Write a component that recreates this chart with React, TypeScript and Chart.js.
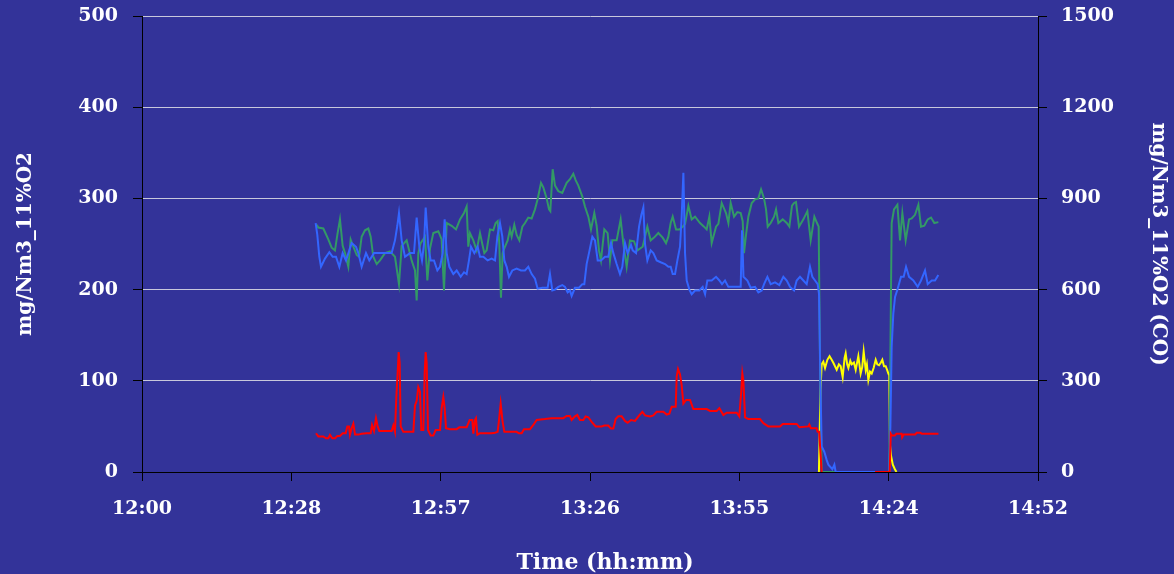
import React, { useEffect, useRef } from 'react';
import { Chart, registerables } from 'chart.js';

Chart.register(...registerables);

// x values are minutes after 12:00
const tickMinutes = [0, 28.8, 57.6, 86.4, 115.2, 144, 172.8];
const timeLabels = ['12:00', '12:28', '12:57', '13:26', '13:55', '14:24', '14:52'];
const leftTicks = [0, 100, 200, 300, 400, 500];
const rightTicks = [0, 300, 600, 900, 1200, 1500];
const xTitle = 'Time (hh:mm)';

const greenSeries: [number, number | null][] = [
  [33.68,271],[34.0,268],[34.97,267],[35.93,255],[36.58,246],[37.22,243],[37.67,260],[38.18,277],[38.7,248],[39.15,240],[39.79,225],[40.24,255],[40.76,247],[41.4,238],[41.85,236],[42.36,258],[43.0,265],[43.65,267],[44.1,258],[44.61,236],[45.26,228],[45.9,232],[46.86,240],[47.83,242],[48.79,236],[49.56,206],[50.08,248],[51.04,254],[52.0,232],[52.65,221],[52.97,188],[53.29,240],[53.74,251],[54.58,258],[55.03,210],[55.54,245],[56.18,262],[57.15,264],[57.79,255],[58.24,199],[58.76,273],[59.72,270],[60.56,266],[61.33,277],[62.1,284],[62.61,291],[62.93,247],[63.25,262],[63.9,254],[64.54,243],[65.18,262],[65.63,250],[66.02,240],[66.47,243],[67.11,266],[67.75,265],[68.2,273],[68.59,275],[68.91,250],[69.23,191],[69.55,240],[70.0,247],[70.52,254],[70.97,266],[71.29,258],[71.8,271],[72.25,260],[72.77,254],[73.35,269],[73.86,273],[74.5,279],[75.15,278],[75.79,288],[76.3,299],[76.95,317],[77.4,312],[78.04,300],[78.49,288],[78.75,286],[79.2,332],[79.65,314],[80.29,308],[81.06,306],[81.9,317],[82.54,321],[83.18,327],[83.63,320],[84.15,314],[84.92,302],[85.43,291],[86.08,280],[86.59,266],[87.23,284],[87.68,270],[88.13,243],[88.52,232],[89.16,266],[89.8,262],[90.25,232],[90.7,254],[91.54,254],[92.31,277],[92.82,251],[93.47,225],[94.11,254],[94.89,253],[95.53,243],[96.56,247],[97.46,269],[98.1,254],[98.75,257],[99.58,262],[100.42,257],[101.06,251],[101.51,258],[101.96,273],[102.35,280],[103.0,266],[103.63,266],[104.28,269],[104.73,272],[105.37,292],[106.01,277],[106.66,280],[107.62,273],[108.39,269],[108.9,266],[109.42,280],[109.87,251],[110.71,269],[111.16,272],[111.8,295],[112.63,284],[113.09,273],[113.53,295],[114.18,280],[114.82,285],[115.46,284],[115.85,275],[116.1,240],[116.49,260],[116.94,280],[117.59,295],[118.23,299],[118.87,300],[119.39,310],[119.96,300],[120.35,288],[120.67,269],[121.25,273],[121.9,280],[122.28,288],[122.73,273],[123.56,277],[124.34,273],[124.85,269],[125.36,292],[125.75,295],[126.13,296],[126.71,269],[127.55,277],[128.32,286],[128.96,254],[129.67,280],[130.18,273],[130.5,269],[130.76,120],[131.08,0],[144.13,0],[144.45,200],[144.58,273],[145.03,288],[145.68,293],[146.19,254],[146.64,284],[147.28,254],[147.93,277],[148.44,278],[149.08,282],[149.73,293],[150.24,269],[150.88,270],[151.53,277],[152.17,279],[152.81,273],[153.58,274]
];

const blueSeries: [number, number | null][] = [
  [33.49,273],[33.81,260],[34.2,236],[34.52,225],[35.29,234],[36.13,241],[36.77,236],[37.41,236],[38.06,225],[38.7,240],[39.34,232],[39.98,243],[40.43,251],[41.27,247],[41.72,240],[42.36,225],[43.2,240],[43.84,232],[44.74,240],[45.9,240],[47.18,240],[48.15,240],[48.79,254],[49.24,270],[49.56,284],[50.08,254],[50.72,236],[51.69,240],[52.46,240],[52.97,279],[53.49,247],[54.0,232],[54.39,250],[54.71,290],[55.22,247],[55.67,232],[56.31,232],[56.96,221],[57.47,225],[57.99,240],[58.37,277],[58.76,240],[59.27,225],[60.04,217],[60.69,221],[61.46,214],[62.1,219],[62.61,217],[63.06,232],[63.45,247],[64.09,240],[64.73,247],[65.18,236],[65.83,236],[66.66,232],[67.43,234],[68.08,232],[68.53,258],[69.04,273],[69.49,258],[69.88,232],[70.33,225],[70.78,214],[71.42,221],[72.25,223],[73.09,221],[73.86,221],[74.5,225],[75.15,217],[75.79,212],[76.3,201],[77.2,202],[78.23,202],[78.68,217],[79.13,199],[79.65,200],[80.29,203],[81.06,205],[81.58,203],[82.09,197],[82.54,199],[82.86,193],[83.5,202],[84.28,202],[84.92,206],[85.3,206],[85.75,228],[86.2,240],[86.85,258],[87.36,254],[87.88,232],[88.52,232],[89.29,236],[89.93,236],[90.45,251],[90.9,240],[91.54,228],[92.18,217],[92.63,225],[93.15,251],[93.66,240],[94.31,249],[94.63,243],[95.28,240],[95.86,269],[96.31,282],[96.69,290],[97.01,250],[97.46,232],[98.1,243],[98.62,240],[99.26,232],[100.03,230],[100.87,228],[101.51,225],[101.96,225],[102.35,217],[102.8,217],[103.25,232],[103.76,247],[104.08,280],[104.41,328],[104.73,240],[105.05,210],[105.56,200],[106.01,195],[106.66,199],[107.49,199],[108.13,203],[108.59,195],[109.03,210],[109.87,210],[110.71,214],[111.35,210],[111.86,206],[112.44,210],[113.08,203],[114.05,203],[115.01,203],[115.46,203],[115.72,265],[115.85,265],[116.0,214],[116.75,210],[117.39,202],[118.23,203],[118.87,197],[119.51,199],[119.97,206],[120.61,214],[121.25,206],[122.09,208],[122.92,205],[123.69,214],[124.34,210],[124.98,203],[125.75,199],[126.26,210],[126.9,214],[127.55,210],[128.19,206],[128.83,225],[129.28,214],[129.8,210],[130.31,206],[130.57,195],[130.83,100],[131.08,28],[131.6,22],[132.05,13],[132.37,8],[133.14,3],[133.53,8],[133.78,0],[144.13,0],[144.33,50],[144.58,137],[144.9,174],[145.23,192],[145.74,201],[146.38,214],[146.9,214],[147.35,225],[147.93,214],[148.76,210],[149.6,203],[150.24,210],[151.01,221],[151.53,206],[152.3,210],[152.94,210],[153.58,216]
];

const redSeries: [number, number | null][] = [
  [33.56,42.5],[34.01,39],[34.97,39],[35.48,37],[35.93,37],[36.26,40.7],[36.71,37],[37.22,37],[37.67,39.6],[38.18,39.6],[38.7,42.5],[39.28,42.5],[39.6,50],[39.92,50],[40.11,41],[40.43,48],[40.76,53],[41.08,41],[41.72,41],[42.36,42],[43.33,42.5],[44.1,42.5],[44.36,51.6],[44.74,45],[45.13,59],[45.45,50],[45.77,45],[48.15,45],[48.47,51],[48.79,44],[49.05,82],[49.31,110],[49.5,131.6],[49.69,120],[49.89,50],[50.4,44],[52.33,44],[52.65,73],[52.97,78],[53.29,93],[53.61,88],[53.87,46],[54.26,46],[54.52,110],[54.71,131.6],[54.9,120],[55.16,46],[55.67,40],[56.18,40],[56.63,46],[57.47,46],[57.79,70],[58.11,82],[58.37,70],[58.63,48],[59.4,47],[60.69,47],[61.2,49],[62.61,49],[63.19,57],[63.7,57],[63.9,42],[64.22,57],[64.41,59],[64.67,40.7],[65.18,42.5],[67.43,42.5],[68.08,43],[68.59,44],[68.85,57],[69.17,75],[69.55,55],[69.88,44],[72.25,44],[72.7,42.5],[73.22,42.5],[73.67,47],[74.82,47],[75.47,51.6],[76.11,57],[77.72,58],[79.0,59],[81.25,59],[81.9,61.5],[82.54,61.5],[82.86,57],[83.5,61],[83.95,62.5],[84.47,57],[85.11,57],[85.56,61],[86.08,60],[86.72,55],[87.49,50],[88.65,50],[89.16,51],[89.93,51],[90.45,47.6],[90.9,47.6],[91.35,58],[91.86,61],[92.5,61],[93.15,56],[93.66,54],[94.31,57],[95.08,56],[95.73,61],[96.5,66],[97.01,62],[97.98,61],[98.62,62],[99.26,66],[100.55,66],[101.19,63],[101.71,64],[102.16,71.6],[102.93,71.6],[103.12,105],[103.38,113],[103.76,107],[104.08,95],[104.41,75],[104.92,79],[105.69,79],[106.33,69],[108.9,69],[109.55,67],[110.83,67],[111.35,70],[112.12,62.5],[112.76,65],[114.69,65],[115.2,61],[115.59,90],[115.78,108],[115.98,100],[116.3,60],[116.94,58],[119.19,58],[119.84,53.5],[120.8,50],[123.05,50],[123.56,52.7],[126.26,52.7],[126.78,49],[128.5,50],[128.7,52],[129.0,48],[130.1,48],[130.3,44],[130.6,44],[131.08,0],[131.1,null],[141.37,0],[144.2,0],[144.4,42],[144.6,40],[145.2,40],[145.5,42],[146.5,42],[146.6,38],[146.9,41],[149.1,41],[149.4,43],[150.1,43],[150.4,42],[153.6,42]
];

const yellowSeries: [number, number | null][] = [
  [130.55,0],[130.85,90],[131.08,118],[131.4,121],[131.73,114],[132.18,123],[132.6,127],[133.01,123],[133.4,119],[133.98,112],[134.4,118],[134.75,116],[135.13,104],[135.5,125],[135.71,130],[136.0,118],[136.23,114],[136.6,122],[136.87,118],[137.3,120],[137.64,112],[138.15,127],[138.6,108],[138.9,115],[139.18,132],[139.57,112],[139.8,118],[140.08,101],[140.4,110],[140.73,108],[141.1,114],[141.5,123],[141.8,118],[142.14,117],[142.5,120],[142.78,123],[143.1,116],[143.43,116],[143.7,112],[143.94,108],[144.12,106],[144.25,30],[144.45,18],[144.8,8],[145.2,3],[145.5,0]
];

const FONT_FAMILY = '"DejaVu Serif", "Liberation Serif", serif';

const toPoints = (arr: [number, number | null][]) => arr.map(([x, y]) => ({ x, y }));

const bgPlugin = {
  id: 'bgFill',
  beforeDraw(chart: any) {
    const { ctx, width, height } = chart;
    ctx.save();
    ctx.fillStyle = '#333399';
    ctx.fillRect(0, 0, width, height);
    ctx.restore();
  },
};

// x-axis title, drawn slightly right of the plot centre as in the original
const xTitlePlugin = {
  id: 'xTitle',
  afterDraw(chart: any) {
    const { ctx, chartArea } = chart;
    ctx.save();
    ctx.fillStyle = '#FFFFFF';
    ctx.font = 'bold 22px ' + FONT_FAMILY;
    ctx.textAlign = 'center';
    ctx.textBaseline = 'middle';
    ctx.fillText(xTitle, (chartArea.left + chartArea.right) / 2 + 15, chartArea.bottom + 91);
    ctx.restore();
  },
};

const noPad = (s: any) => {
  s.paddingTop = 0;
  s.paddingBottom = 0;
  s.paddingLeft = 0;
  s.paddingRight = 0;
};

export default function App() {
  const canvasRef = useRef<HTMLCanvasElement | null>(null);

  useEffect(() => {
    if (!canvasRef.current) return;
    const tickFont = { family: FONT_FAMILY, size: 19, weight: 'bold' as const };
    const titleFont = { family: FONT_FAMILY, size: 20, weight: 'bold' as const, lineHeight: 1 };
    const chart = new Chart(canvasRef.current, {
      type: 'line',
      data: {
        datasets: [
          { label: 'Red', data: toPoints(redSeries), borderColor: '#FF0000', yAxisID: 'y' },
          { label: 'Blue', data: toPoints(blueSeries), borderColor: '#3366FF', yAxisID: 'y' },
          { label: 'Green', data: toPoints(greenSeries), borderColor: '#339966', yAxisID: 'y' },
          { label: 'Yellow', data: toPoints(yellowSeries), borderColor: '#FFFF00', yAxisID: 'y' },
        ],
      },
      options: {
        animation: false,
        responsive: false,
        maintainAspectRatio: false,
        spanGaps: false,
        layout: { padding: { top: 16, left: 0, right: 0, bottom: 0 } },
        plugins: { legend: { display: false }, tooltip: { enabled: false } },
        elements: {
          point: { radius: 0 },
          line: { tension: 0, borderWidth: 2, fill: false },
        },
        scales: {
          x: {
            type: 'linear',
            min: 0,
            max: 172.8,
            afterBuildTicks: (s: any) => {
              s.ticks = tickMinutes.map((v) => ({ value: v }));
            },
            afterFit: (s: any) => {
              s.height = 102;
              noPad(s);
            },
            ticks: {
              color: '#FFFFFF',
              font: tickFont,
              padding: 17,
              maxRotation: 0,
              autoSkip: false,
              callback: (_v: any, i: number) => timeLabels[i],
            },
            grid: { drawOnChartArea: false, drawTicks: true, tickLength: 9, tickColor: '#000000' },
            border: { color: '#000000', width: 1 },
            title: { display: false },
          },
          y: {
            type: 'linear',
            position: 'left',
            min: 0,
            max: 500,
            afterBuildTicks: (s: any) => {
              s.ticks = leftTicks.map((v) => ({ value: v }));
            },
            afterFit: (s: any) => {
              s.width = 142;
              noPad(s);
            },
            ticks: { color: '#FFFFFF', font: tickFont, padding: 15, callback: (v: any) => String(v) },
            grid: { color: '#C8C8DC', lineWidth: 1, tickColor: '#000000', tickLength: 9 },
            border: { color: '#000000', width: 1 },
            title: {
              display: true,
              text: 'mg/Nm3_11%O2',
              color: '#FFFFFF',
              font: titleFont,
              padding: { top: 16, bottom: 0 },
            },
          },
          y2: {
            type: 'linear',
            position: 'right',
            min: 0,
            max: 1500,
            afterBuildTicks: (s: any) => {
              s.ticks = rightTicks.map((v) => ({ value: v }));
            },
            afterFit: (s: any) => {
              s.width = 136;
              noPad(s);
            },
            ticks: { color: '#FFFFFF', font: tickFont, padding: 14, callback: (v: any) => String(v) },
            grid: { drawOnChartArea: false, tickColor: '#000000', tickLength: 9 },
            border: { color: '#000000', width: 1 },
            title: {
              display: true,
              text: 'mg/Nm3_11%O2 (CO)',
              color: '#FFFFFF',
              font: titleFont,
              padding: { top: 6, bottom: 0 },
            },
          },
        },
      },
      plugins: [bgPlugin, xTitlePlugin],
    } as any);
    return () => chart.destroy();
  }, []);

  return (
    <div style={{ position: 'fixed', left: 0, top: 0, width: 1174, height: 574, background: '#333399' }}>
      <canvas ref={canvasRef} width={1174} height={574} style={{ display: 'block' }} />
    </div>
  );
}
